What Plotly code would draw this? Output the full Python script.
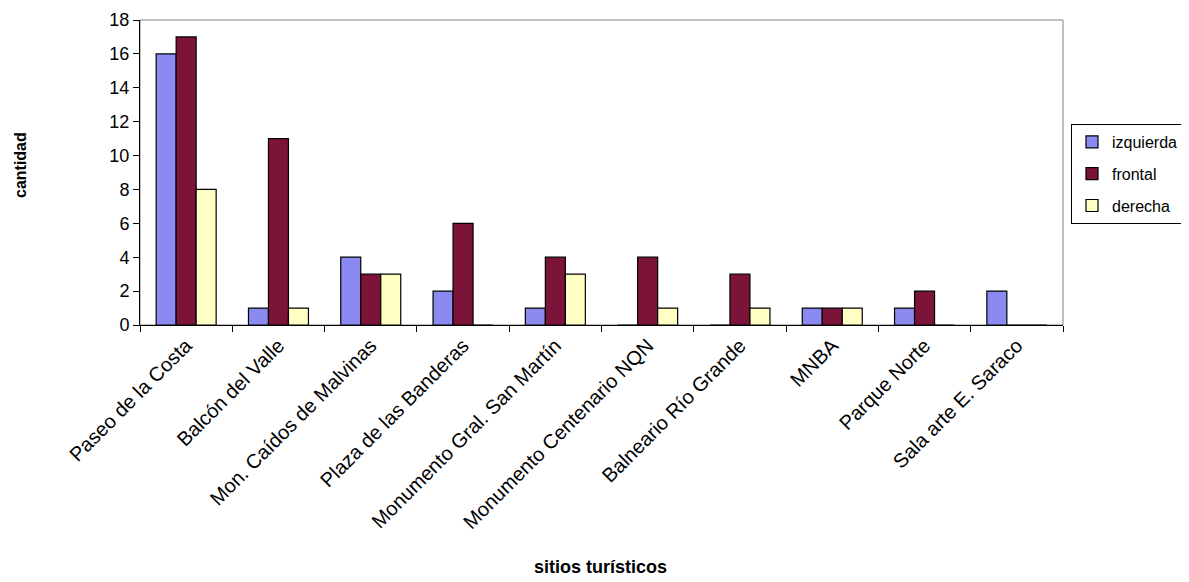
import plotly.graph_objects as go

categories = ["Paseo de la Costa", "Balcón del Valle", "Mon. Caídos de Malvinas",
              "Plaza de las Banderas", "Monumento Gral. San Martín",
              "Monumento Centenario NQN", "Balneario Río Grande", "MNBA",
              "Parque Norte", "Sala arte E. Saraco"]
izquierda = [16, 1, 4, 2, 1, 0, 0, 1, 1, 2]
frontal = [17, 11, 3, 6, 4, 4, 3, 1, 2, 0]
derecha = [8, 1, 3, 0, 3, 1, 1, 1, 0, 0]
y_ticks = [0, 2, 4, 6, 8, 10, 12, 14, 16, 18]

FONT = "Liberation Sans, Arial, sans-serif"
series = [("izquierda", izquierda, "#8a8af0"),
          ("frontal", frontal, "#7c1439"),
          ("derecha", derecha, "#ffffc4")]

# page body has an 8px default margin, so the figure is drawn 8px smaller
W, H = 1181, 574
OFF = 8

fig = go.Figure()
for name, vals, col in series:
    fig.add_trace(go.Bar(x=categories, y=vals, name=name, legendgroup=name,
                         marker=dict(color=col, line=dict(color="#000000", width=1.2))))

fig.update_layout(
    width=W, height=H,
    margin=dict(l=140 - OFF, r=W - (1063 - OFF), t=20 - OFF, b=H - (325 - OFF),
                autoexpand=False),
    paper_bgcolor="white", plot_bgcolor="white",
    barmode="group", bargap=0.35, bargroupgap=0,
    font=dict(family=FONT, color="#000000"),
    showlegend=True,
    legend=dict(xref="container", yref="container",
                x=(1071 - OFF) / W, y=1 - (124 - OFF) / H,
                xanchor="left", yanchor="top",
                bordercolor="#000000", borderwidth=1, bgcolor="white",
                font=dict(family=FONT, size=16), tracegroupgap=8,
                itemwidth=30),
    xaxis=dict(type="category", tickangle=-45, tickson="boundaries",
               ticks="outside", ticklen=6, tickcolor="#000000",
               showline=True, linecolor="#000000", linewidth=1,
               showgrid=False, automargin=False,
               tickfont=dict(family=FONT, size=20)),
    yaxis=dict(range=[0, 18], tickvals=y_ticks, ticks="outside", ticklen=6,
               tickcolor="#000000", showline=True, linecolor="#000000",
               linewidth=1, showgrid=False, zeroline=False, automargin=False,
               tickfont=dict(family=FONT, size=18)),
)
fig.add_shape(type="rect", xref="paper", yref="paper", x0=0, x1=1, y0=0, y1=1,
              line=dict(color="#808080", width=1), layer="below")
fig.add_annotation(text="<b>cantidad</b>", xref="paper", yref="paper",
                   x=(20 - 140) / 923, y=(325 - 165) / 305, showarrow=False,
                   textangle=-90, xanchor="center", yanchor="middle",
                   font=dict(family=FONT, size=16))
fig.add_annotation(text="<b>sitios turísticos</b>", xref="paper", yref="paper",
                   x=(600 - 140) / 923, y=(325 - 567) / 305, showarrow=False,
                   xanchor="center", yanchor="middle",
                   font=dict(family=FONT, size=18))

fig.write_html("out.html")
